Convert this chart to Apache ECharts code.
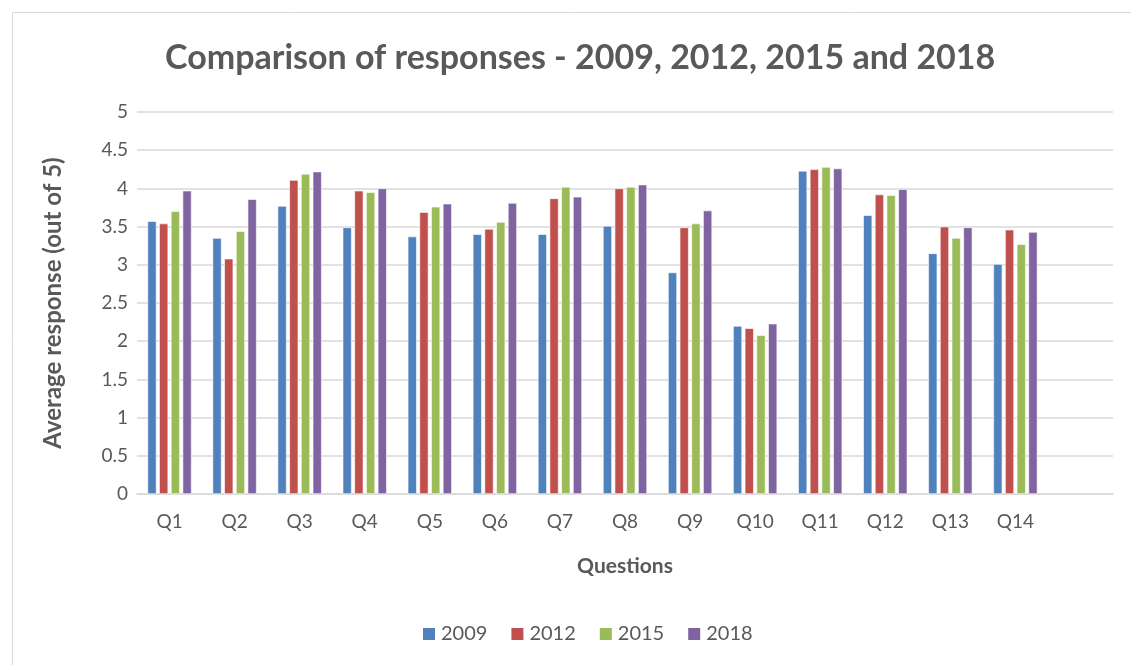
<!DOCTYPE html>
<html>
<head>
<meta charset="utf-8">
<script src="https://cdn.jsdelivr.net/npm/echarts@6/dist/echarts.min.js"></script>
<style>
  html, body { margin: 0; padding: 0; background: #fff; }
  #chart { width: 1131px; height: 665px; }
</style>
</head>
<body>
<div id="chart"></div>
<script>
// questions (last slot is empty, like the source chart)
const questions = ['Q1', 'Q2', 'Q3', 'Q4', 'Q5', 'Q6', 'Q7', 'Q8', 'Q9', 'Q10', 'Q11', 'Q12', 'Q13', 'Q14', ''];
const years = ['2009', '2012', '2015', '2018'];

const r2009 = [3.57, 3.35, 3.77, 3.49, 3.37, 3.40, 3.40, 3.51, 2.90, 2.20, 4.23, 3.65, 3.15, 3.01];
const r2012 = [3.54, 3.08, 4.11, 3.97, 3.69, 3.47, 3.87, 4.00, 3.49, 2.17, 4.25, 3.92, 3.50, 3.46];
const r2015 = [3.70, 3.44, 4.19, 3.95, 3.76, 3.56, 4.02, 4.02, 3.54, 2.08, 4.28, 3.91, 3.35, 3.27];
const r2018 = [3.97, 3.86, 4.22, 4.00, 3.80, 3.81, 3.89, 4.05, 3.71, 2.23, 4.26, 3.99, 3.49, 3.43];

const colors = ['#4F81BD', '#C0504D', '#9BBB59', '#8064A2'];
const font = 'Lato, "Open Sans", sans-serif';

const chart = echarts.init(document.getElementById('chart'));

const seriesData = [r2009, r2012, r2015, r2018];

chart.setOption({
    animation: false,
    color: colors,
    textStyle: { fontFamily: font },
    graphic: [{
        type: 'rect',
        shape: { x: 12.5, y: 12.5, width: 1130, height: 660 },
        style: { fill: 'none', stroke: '#d9d9d9', lineWidth: 1 },
        silent: true
    }],
    title: {
        text: 'Comparison of responses - 2009, 2012, 2015 and 2018',
        left: 160,
        top: 36,
        textStyle: { color: '#595959', fontSize: 34, fontWeight: 'bold', fontFamily: font }
    },
    legend: {
        data: years,
        bottom: 16,
        left: 416,
        itemWidth: 14,
        itemHeight: 14,
        itemGap: 22,
        icon: 'rect',
        textStyle: { color: '#595959', fontSize: 20, fontFamily: font }
    },
    grid: { left: 137, right: 18, top: 112, bottom: 171 },
    xAxis: {
        type: 'category',
        data: questions,
        name: 'Questions',
        nameLocation: 'middle',
        nameGap: 62,
        nameTextStyle: { color: '#595959', fontSize: 21, fontWeight: 'bold', fontFamily: font },
        axisLine: { lineStyle: { color: '#d9d9d9', width: 1.5 } },
        axisTick: { show: false },
        axisLabel: { color: '#595959', fontSize: 19, margin: 18, fontFamily: font }
    },
    yAxis: {
        type: 'value',
        min: 0,
        max: 5,
        interval: 0.5,
        name: 'Average response (out of 5)',
        nameLocation: 'middle',
        nameGap: 72,
        nameRotate: 90,
        nameTextStyle: { color: '#595959', fontSize: 24, fontWeight: 'bold', fontFamily: font },
        axisLine: { show: false },
        axisTick: { show: false },
        axisLabel: { color: '#595959', fontSize: 19, margin: 9, fontFamily: font },
        splitLine: { lineStyle: { color: '#d9d9d9', width: 1.5 } }
    },
    series: years.map((y, i) => ({
        name: y,
        type: 'bar',
        data: seriesData[i],
        barWidth: 9,
        barGap: '30%',
        itemStyle: { color: colors[i], borderColor: '#ffffff', borderWidth: 0.6 }
    }))
});
</script>
</body>
</html>
